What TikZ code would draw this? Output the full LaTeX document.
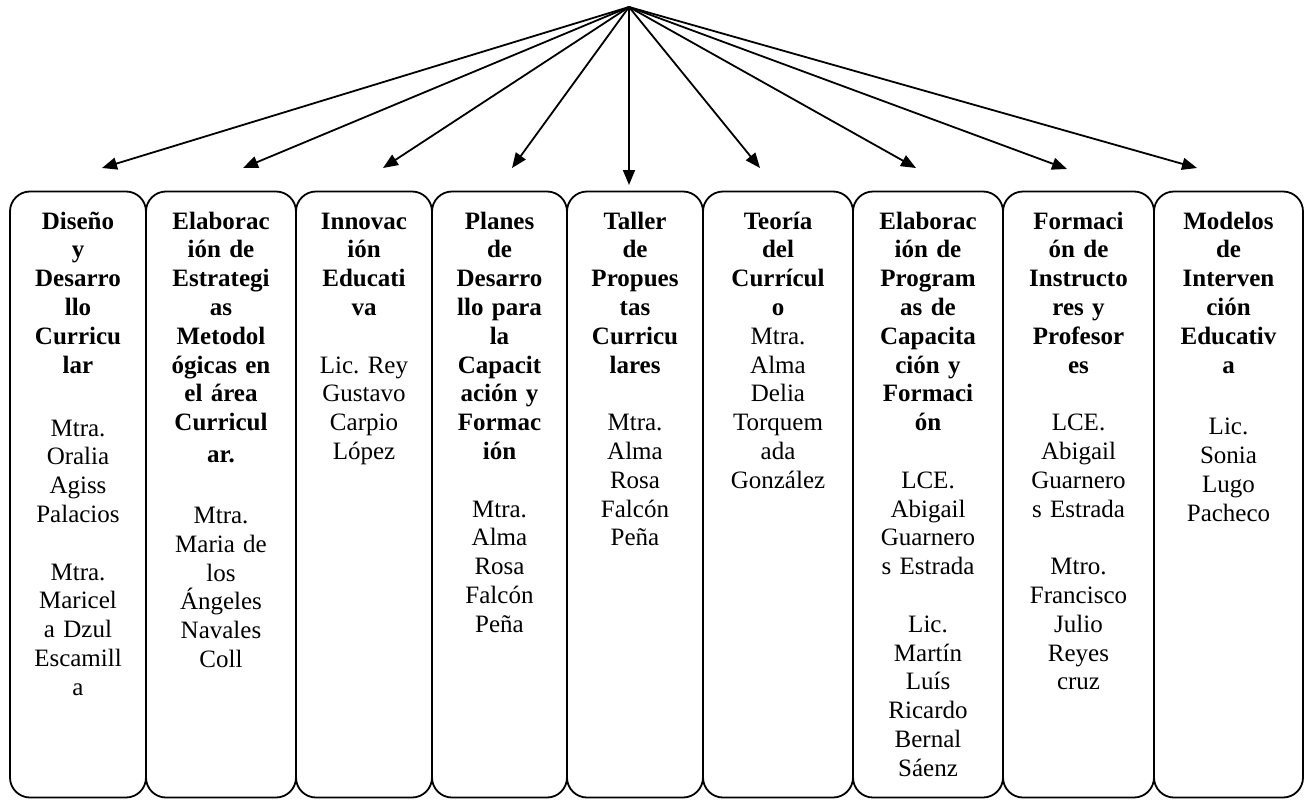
\documentclass[tikz,border=0pt]{standalone}
\usepackage{fontspec}
\setmainfont{Liberation Serif}
\usetikzlibrary{arrows.meta}
\frenchspacing
\begin{document}
\begin{tikzpicture}[x=1pt,y=-1pt,
  panel/.style={draw=black, line width=1.8pt, rounded corners=20pt, minimum height=606pt, inner sep=0pt, outer sep=0pt},
  txt/.style={anchor=base, text width=150pt, align=center, inner sep=0pt, font=\fontsize{25}{28.8}\selectfont\frenchspacing},
  arr/.style={line width=1.8pt, -{Triangle[length=15pt,width=12pt]}}]
\useasboundingbox (0,0) rectangle (1305,800);
% panels
\node[panel, minimum width=136pt] (b1) at (78,494.5) {};
\node[panel, minimum width=150pt] (b2) at (221,494.5) {};
\node[panel, minimum width=136pt] (b3) at (364,494.5) {};
\node[panel, minimum width=135pt] (b4) at (499.5,494.5) {};
\node[panel, minimum width=136pt] (b5) at (635,494.5) {};
\node[panel, minimum width=150pt] (b6) at (778,494.5) {};
\node[panel, minimum width=150pt] (b7) at (928,494.5) {};
\node[panel, minimum width=151pt] (b8) at (1078.5,494.5) {};
\node[panel, minimum width=149pt] (b9) at (1228.5,494.5) {};
% texts
\node[txt] (t1) at (78,229) {\bfseries Diseño\\y\\Desarro\\llo\\Curricu\\lar\\[34.2pt]\mdseries Mtra.\\Oralia\\Agiss\\Palacios\\[28.8pt]Mtra.\\Maricel\\a Dzul\\Escamill\\a};
\node[txt] (t2) at (221,229) {\bfseries Elaborac\\ión de\\Estrategi\\as\\Metodol\\ógicas en\\el área\\Curricul\\[3pt]ar.\\[32.2pt]\mdseries Mtra.\\Maria de\\los\\Ángeles\\Navales\\Coll};
\node[txt] (t3) at (364,229) {\bfseries Innovac\\ión\\Educati\\va\\[28.8pt]\mdseries Lic. Rey\\Gustavo\\Carpio\\López};
\node[txt] (t4) at (499.5,229) {\bfseries Planes\\de\\Desarro\\llo para\\la\\Capacit\\ación y\\Formac\\ión\\[28.8pt]\mdseries Mtra.\\Alma\\Rosa\\Falcón\\Peña};
\node[txt] (t5) at (635,229) {\bfseries Taller\\de\\Propues\\tas\\Curricu\\lares\\[28.8pt]\mdseries Mtra.\\Alma\\Rosa\\Falcón\\Peña};
\node[txt] (t6) at (778,229) {\bfseries Teoría\\del\\Currícul\\o\\\mdseries Mtra.\\Alma\\Delia\\Torquem\\ada\\González};
\node[txt] (t7) at (928,229) {\bfseries Elaborac\\ión de\\Program\\as de\\Capacita\\ción y\\Formaci\\ón\\[28.8pt]\mdseries LCE.\\Abigail\\Guarnero\\s Estrada\\[28.8pt]Lic.\\Martín\\Luís\\Ricardo\\Bernal\\Sáenz};
\node[txt] (t8) at (1078.5,229) {\bfseries Formaci\\ón de\\Instructo\\res y\\Profesor\\es\\[28.8pt]\mdseries LCE.\\Abigail\\Guarnero\\s Estrada\\[28.8pt]Mtro.\\Francisco\\Julio\\Reyes\\cruz};
\node[txt] (t9) at (1228.5,229) {\bfseries Modelos\\de\\Interven\\ción\\Educativ\\a\\[32.8pt]\mdseries Lic.\\Sonia\\Lugo\\Pacheco};
% arrows
\coordinate (apex) at (629,7);
\coordinate (e1) at (102,168);
\coordinate (e2) at (243,168);
\coordinate (e3) at (383,168);
\coordinate (e4) at (512,168);
\coordinate (e5) at (629,185);
\coordinate (e6) at (760,168);
\coordinate (e7) at (916,168);
\coordinate (e8) at (1067,169);
\coordinate (e9) at (1197,168);
\foreach \i in {1,...,9} {\draw[arr] (apex) -- (e\i);}
\end{tikzpicture}
\end{document}
